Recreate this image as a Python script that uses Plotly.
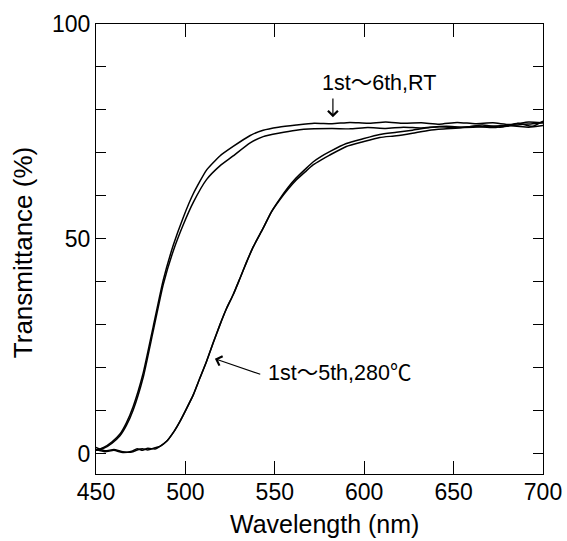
import plotly.graph_objects as go

# Wavelength (nm) and transmittance (%)
wl_rt = [450, 454, 459, 463.4, 467, 470.8, 476.4, 482, 487.6, 493.2, 498.8, 504.4, 511.8, 519.3,
         526.7, 536, 543.5, 552, 562, 572, 582, 592, 602, 612, 622, 632, 642, 652, 662, 672,
         682, 692, 700]
t_rt_a = [0.8, 1.4, 2.8, 4.6, 7.2, 11.0, 18.8, 29.6, 40.4, 48.5, 55.0, 60.5, 66.0, 69.3,
          71.5, 74.0, 75.3, 76.0, 76.5, 76.9, 76.8, 77.1, 76.9, 77.2, 76.9, 77.0, 76.7, 77.1, 76.8, 77.0,
          76.6, 77.2, 77.0]
t_rt_b = [0.8, 1.2, 2.5, 4.2, 6.6, 10.2, 17.8, 28.6, 39.4, 47.2, 53.3, 58.5, 63.8, 67.0,
          69.3, 72.3, 73.8, 74.6, 75.3, 75.6, 75.7, 75.6, 75.9, 75.7, 76.0, 75.8, 76.1, 75.9, 76.2, 75.9,
          76.3, 76.0, 76.4]

wl_280 = [450, 455, 460, 465, 470, 473, 476, 479, 483, 486, 489.5, 493, 496.9, 500.5, 504.4, 508,
          511.8, 515.5, 519.3, 523, 526.7, 530.5, 534.2, 538, 543.5, 548, 552.8, 557.5, 562, 567,
          571.4, 576, 580.7, 590, 599.3, 608.7, 618, 627, 636.6, 646, 656, 666, 676, 686, 694, 700]
t_280_a = [1.5, 0.7, 1.0, 0.5, 0.4, 0.9, 1.2, 0.9, 1.4, 1.8, 2.9, 4.8, 7.5, 10.4, 13.7, 17.5,
           21.5, 25.8, 30.0, 33.8, 37.0, 40.8, 44.6, 48.2, 52.5, 56.2, 59.1, 61.6, 63.7, 65.6,
           67.2, 68.4, 69.5, 71.5, 72.6, 73.6, 74.0, 74.6, 75.3, 75.6, 75.9, 76.1, 76.3, 76.5, 76.8, 77.0]
t_280_b = [1.0, 0.5, 0.8, 0.3, 0.6, 1.2, 0.8, 1.3, 1.1, 1.8, 2.9, 4.8, 7.5, 10.4, 13.7, 17.5,
           21.5, 25.8, 30.0, 33.8, 37.0, 40.8, 44.6, 48.2, 52.5, 56.2, 59.3, 62.0, 64.2, 66.2,
           67.9, 69.2, 70.3, 72.2, 73.3, 74.3, 74.8, 75.3, 75.9, 76.2, 76.0, 76.5, 76.0, 76.9, 76.2, 77.4]

x_ticks = [450, 500, 550, 600, 650, 700]
y_ticks = [0, 50, 100]

FONT = "Liberation Sans, Arial, Noto Sans CJK JP"

fig = go.Figure()
for xs, ys in [(wl_rt, t_rt_a), (wl_rt, t_rt_b), (wl_280, t_280_a), (wl_280, t_280_b)]:
    fig.add_trace(go.Scatter(x=xs, y=ys, mode="lines",
                             line=dict(color="black", width=1.5, shape="spline", smoothing=0.5),
                             showlegend=False, hoverinfo="skip"))

fig.add_annotation(x=582.5, y=78.3, ax=582.5, ay=83.0, xref="x", yref="y", axref="x", ayref="y",
                   showarrow=True, arrowhead=4, arrowsize=1.6, arrowwidth=1.2, arrowcolor="black", text="")
fig.add_annotation(x=575, y=86.2, xref="x", yref="y", text="1st〜6th,RT", showarrow=False,
                   xanchor="left", font=dict(family=FONT, size=21.5, color="black"))
fig.add_annotation(x=516.5, y=22.1, ax=542.7, ay=18.4, xref="x", yref="y", axref="x", ayref="y",
                   showarrow=True, arrowhead=4, arrowsize=1.6, arrowwidth=1.2, arrowcolor="black", text="")
fig.add_annotation(x=545.0, y=18.8, xref="x", yref="y", text="1st〜5th,280℃", showarrow=False,
                   xanchor="left", font=dict(family=FONT, size=21.5, color="black"))

# axis titles placed as paper annotations
fig.add_annotation(x=0.512, y=-0.112, xref="paper", yref="paper", text="Wavelength (nm)",
                   showarrow=False, xanchor="center", yanchor="middle",
                   font=dict(family=FONT, size=25, color="black"))
fig.add_annotation(x=-0.163, y=0.491, xref="paper", yref="paper", text="Transmittance (%)",
                   showarrow=False, xanchor="center", yanchor="middle", textangle=-90,
                   font=dict(family=FONT, size=26, color="black"))

fig.update_xaxes(range=[450, 700], tickvals=x_ticks, ticktext=[str(v) for v in x_ticks],
                 ticks="inside", ticklen=13, tickwidth=1.2, tickcolor="black",
                 showline=True, linecolor="black", linewidth=1.2, mirror="ticks",
                 showgrid=False, zeroline=False, automargin=False, ticklabelstandoff=-3,
                 tickfont=dict(family=FONT, size=23, color="black"))
fig.update_yaxes(range=[-4.7, 100], tickvals=y_ticks, ticktext=[str(v) for v in y_ticks],
                 ticks="inside", ticklen=10, tickwidth=1.2, tickcolor="black",
                 minor=dict(dtick=10, tick0=0, ticks="inside", ticklen=10, tickwidth=1.2, tickcolor="black", showgrid=False),
                 showline=True, linecolor="black", linewidth=1.2, mirror="ticks",
                 showgrid=False, zeroline=False, automargin=False,
                 tickfont=dict(family=FONT, size=23, color="black"))

fig.update_layout(width=567, height=541, margin=dict(l=96, r=24, t=24, b=67),
                  plot_bgcolor="white", paper_bgcolor="white")

fig.write_html("out.html")
